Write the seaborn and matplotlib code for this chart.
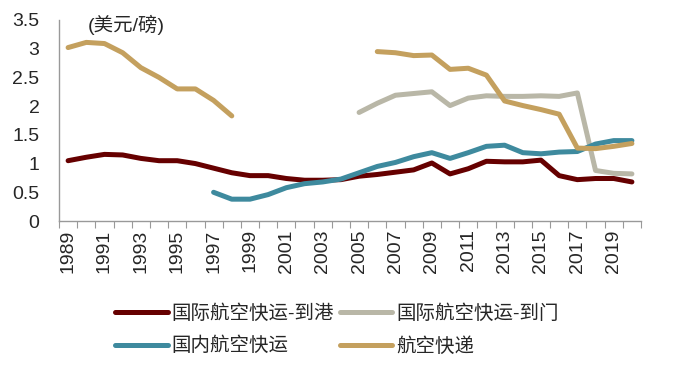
import numpy as np
import pandas as pd
import seaborn as sns
import matplotlib.pyplot as plt

# data (USD per pound)
years = list(range(1989, 2021))
nan = np.nan

intl_port = [1.05, 1.11, 1.16, 1.15, 1.09, 1.05, 1.05, 1.00, 0.92, 0.84, 0.79,
             0.79, 0.74, 0.71, 0.71, 0.72, 0.78, 0.81, 0.85, 0.89, 1.01, 0.82,
             0.91, 1.04, 1.03, 1.03, 1.06, 0.79, 0.72, 0.74, 0.74, 0.68]
intl_door = [nan] * 16 + [1.89, 2.05, 2.19, 2.22, 2.25, 2.01, 2.14, 2.18,
                          2.17, 2.17, 2.18, 2.17, 2.23, 0.88, 0.83, 0.82]
domestic = [nan] * 8 + [0.50, 0.38, 0.38, 0.46, 0.58, 0.65, 0.68, 0.73,
                        0.84, 0.95, 1.02, 1.12, 1.19, 1.09, 1.19, 1.30,
                        1.32, 1.19, 1.17, 1.20, 1.21, 1.34, 1.40, 1.40]
express = [3.02, 3.11, 3.09, 2.93, 2.67, 2.50, 2.30, 2.30, 2.10, 1.83] + [nan] * 7 + \
          [2.95, 2.93, 2.88, 2.89, 2.64, 2.66, 2.54, 2.09, 2.01, 1.94, 1.86,
           1.27, 1.26, 1.30, 1.35]

names = ['国际航空快运-到港', '国际航空快运-到门', '国内航空快运', '航空快递']
colors = ['#660000', '#b9b7a7', '#3e8a9e', '#c4a05e']

# long form, with a segment id so gaps break the line
rows = []
for name, vals in zip(names, [intl_port, intl_door, domestic, express]):
    seg = 0
    prev_nan = True
    for y, v in zip(years, vals):
        if np.isnan(v):
            prev_nan = True
            continue
        if prev_nan:
            seg += 1
            prev_nan = False
        rows.append((name, f'{name}_{seg}', y, v))
df = pd.DataFrame(rows, columns=['series', 'seg', 'year', 'value'])

sns.set_style('white')
plt.rcParams['font.family'] = ['Liberation Sans', 'Noto Sans CJK SC', 'DejaVu Sans']

fig = plt.figure(figsize=(6.74, 3.74), dpi=100)
ax = fig.add_axes([59 / 674, 1 - 221 / 374, (641 - 59) / 674, 201 / 374])

sns.lineplot(data=df, x='year', y='value', hue='series', units='seg',
             estimator=None, hue_order=names, palette=colors, lw=3.6,
             solid_capstyle='round', solid_joinstyle='round', ax=ax)

ax.set_xlim(1988.5, 2020.5)
ax.set_ylim(0, 3.5)
ax.set_yticks(np.arange(0, 3.51, 0.5))
ax.set_yticklabels(['%g' % t for t in np.arange(0, 3.51, 0.5)], fontsize=14)
ax.set_xticks(np.arange(1988.5, 2021, 1))
ax.set_xticklabels([])
ax.set_xticks(range(1989, 2021, 2), minor=True)
ax.set_xticklabels([str(y) for y in range(1989, 2021, 2)], minor=True,
                   rotation=90, fontsize=14)
ax.tick_params(axis='x', which='major', length=5, color='#999999', direction='out', bottom=True)
ax.tick_params(axis='x', which='minor', length=0, pad=6)
ax.tick_params(axis='y', length=0, pad=14)
ax.set_xlabel('')
ax.set_ylabel('')
sns.despine(ax=ax)
for s in ['left', 'bottom']:
    ax.spines[s].set_color('#999999')
    ax.spines[s].set_linewidth(1)

fig.text(88 / 674, 1 - 25 / 374, '(美元/磅)', fontsize=14, va='center')

handles, labels = ax.get_legend_handles_labels()
ax.get_legend().remove()
order = [0, 2, 1, 3]
leg = fig.legend([handles[i] for i in order], [labels[i] for i in order],
                 ncol=2, loc='center', bbox_to_anchor=(0.5, 1 - 330 / 374),
                 frameon=False, fontsize=14, handlelength=2.7, handletextpad=0.2,
                 columnspacing=0.3, labelspacing=0.7)
for h in leg.get_lines():
    h.set_linewidth(3.6)

fig.savefig('out.png', dpi=100)
